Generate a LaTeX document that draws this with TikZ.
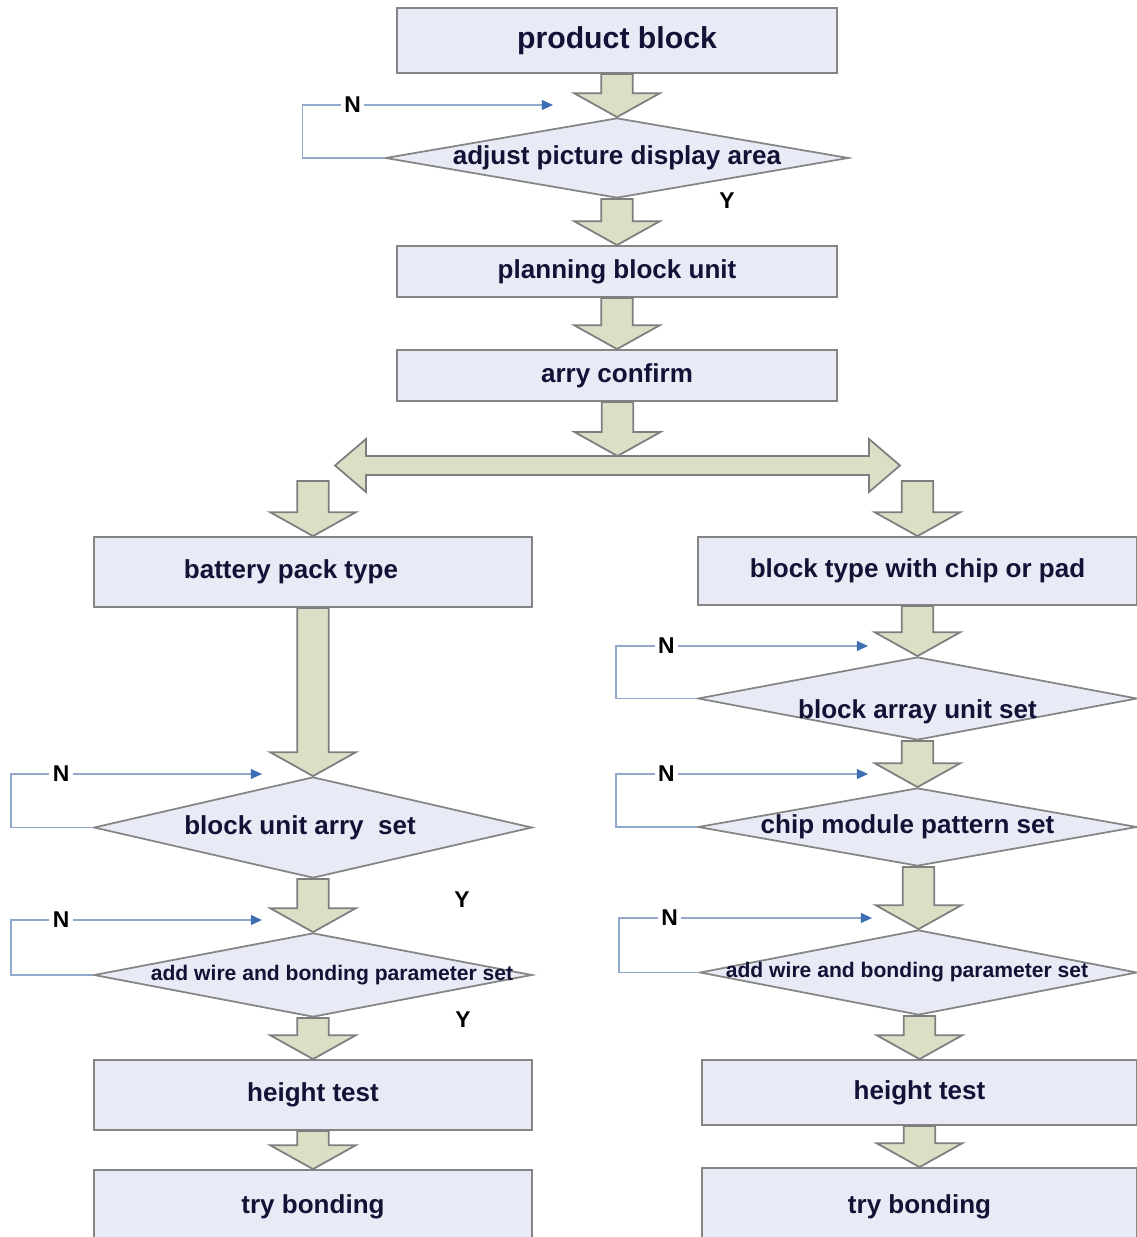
\documentclass[tikz,border=0pt]{standalone}
\usepackage{fontspec}
\setmainfont{Liberation Sans}
\usetikzlibrary{shapes.geometric,calc,arrows.meta}
\definecolor{boxfill}{HTML}{E8EBF5}
\definecolor{boxline}{HTML}{858585}
\definecolor{arrfill}{HTML}{DCDEC6}
\definecolor{arrline}{HTML}{7E7E7E}
\definecolor{txtcol}{HTML}{121236}
\definecolor{loopblue}{HTML}{8FA8CC}
\definecolor{tipblue}{HTML}{3D6DB3}
\newcommand{\fatdown}[2]{%
  \filldraw[fatarrow] let \p1=(#1), \p2=(#2) in
    (\x2-4.5pt,\y1) -- (\x2+4.5pt,\y1) -- (\x2+4.5pt,\y2+6.8pt)
    -- (\x2+12.2pt,\y2+6.8pt) -- (\x2,\y2) -- (\x2-12.2pt,\y2+6.8pt)
    -- (\x2-4.5pt,\y2+6.8pt) -- cycle;}
\newcommand{\nloop}[3]{%
  \draw[nloopline] (#1.west) -- ++(-#2,0) |- (#3) node[pos=0.6,nlabel] {N};}

\begin{document}
\begin{tikzpicture}[x=0.01cm,y=-0.01cm,
  txt/.style={font=\bfseries\fontsize{7.4}{9}\selectfont,text=txtcol},
  txtsmall/.style={font=\bfseries\fontsize{6}{7}\selectfont,text=txtcol},
  box/.style={txt,draw=boxline,fill=boxfill,line width=0.5pt,inner sep=0pt},
  decision/.style={diamond,draw=boxline,fill=boxfill,line width=0.5pt,inner sep=0pt},
  fatarrow/.style={fill=arrfill,draw=arrline,line width=0.5pt},
  nloopline/.style={draw=loopblue,line width=0.5pt,-{Triangle[length=3.2pt,width=2.8pt,color=tipblue]}},
  nlabel/.style={fill=white,inner sep=1pt,font=\bfseries\fontsize{6.5}{8}\selectfont},
  yn/.style={font=\bfseries\fontsize{6.5}{8}\selectfont}]
  \useasboundingbox (0,0) rectangle (1137,1237);

  \node[box,minimum width=4.4cm,minimum height=0.65cm,font=\bfseries\fontsize{8.6}{10}\selectfont] (prod) at (617,40.5) {product block};
  \node[decision,minimum width=4.63cm,minimum height=0.8cm,label={[txt]center:adjust picture display area}] (adj) at (617,158) {};
  \node[box,minimum width=4.4cm,minimum height=0.51cm] (plan) at (617,271.5) {planning block unit};
  \node[box,minimum width=4.4cm,minimum height=0.51cm] (arry) at (617,375.5) {arry confirm};
  \coordinate (split) at (617.5,456);
  \coordinate (brL) at (313,481);
  \coordinate (brR) at (917.5,481);

  \node[box,minimum width=4.38cm,minimum height=0.7cm] (bat) at (313,572) {battery pack type\hspace*{0.44cm}};
  \node[decision,minimum width=4.38cm,minimum height=1.01cm,label={[txt,xshift=-0.13cm]center:block unit arry\ \ set}] (unitL) at (313,827.5) {};
  \node[decision,minimum width=4.38cm,minimum height=0.84cm,label={[txtsmall,xshift=0.19cm]center:add wire and bonding parameter set}] (wireL) at (313,975) {};
  \node[box,minimum width=4.38cm,minimum height=0.7cm] (htL) at (313,1095) {height test};
  \node[box,minimum width=4.38cm,minimum height=0.74cm] (tryL) at (313,1207) {try bonding};

  \node[box,minimum width=4.39cm,minimum height=0.68cm] (chip) at (917.5,571) {block type with chip or pad};
  \node[decision,minimum width=4.39cm,minimum height=0.83cm,label={[txt,yshift=-0.135cm]center:block array unit set}] (arrayR) at (917.5,698.5) {};
  \node[decision,minimum width=4.39cm,minimum height=0.78cm,label={[txt,xshift=-0.1cm]center:chip module pattern set}] (chipR) at (917.5,827) {};
  \node[decision,minimum width=4.37cm,minimum height=0.85cm,label={[txtsmall,xshift=-0.115cm]center:add wire and bonding parameter set}] (wireR) at (918.5,972.5) {};
  \node[box,minimum width=4.35cm,minimum height=0.65cm] (htR) at (919.5,1092.5) {height test};
  \node[box,minimum width=4.35cm,minimum height=0.78cm] (tryR) at (919.5,1207) {try bonding};

  \fatdown{prod.south}{adj.north}
  \fatdown{adj.south}{plan.north}
  \fatdown{plan.south}{arry.north}
  \fatdown{arry.south}{split}
  \filldraw[fatarrow] (335,465.5) -- (366,439) -- (366,456) -- (869,456) -- (869,439) -- (900,465.5)
    -- (869,492) -- (869,475) -- (366,475) -- (366,492) -- cycle;
  \fatdown{brL}{bat.north}
  \fatdown{brR}{chip.north}
  \fatdown{bat.south}{unitL.north}
  \fatdown{unitL.south}{wireL.north}
  \fatdown{wireL.south}{htL.north}
  \fatdown{htL.south}{tryL.north}
  \fatdown{chip.south}{arrayR.north}
  \fatdown{arrayR.south}{chipR.north}
  \fatdown{chipR.south}{wireR.north}
  \fatdown{wireR.south}{htR.north}
  \fatdown{htR.south}{tryR.north}

  \coordinate (adjN) at (553,105);
  \coordinate (unitLN) at (262,774);
  \coordinate (wireLN) at (262,920);
  \coordinate (arrayRN) at (868,646);
  \coordinate (chipRN) at (868,774);
  \coordinate (wireRN) at (872,918);
  \nloop{adj}{82}{adjN}
  \nloop{unitL}{82}{unitLN}
  \nloop{wireL}{82}{wireLN}
  \nloop{arrayR}{81}{arrayRN}
  \nloop{chipR}{81}{chipRN}
  \nloop{wireR}{80}{wireRN}

  \node[yn] (y1) at (727,201) {Y};
  \node[yn] (y2) at (462,900) {Y};
  \node[yn] (y3) at (463,1020) {Y};
\end{tikzpicture}
\end{document}
